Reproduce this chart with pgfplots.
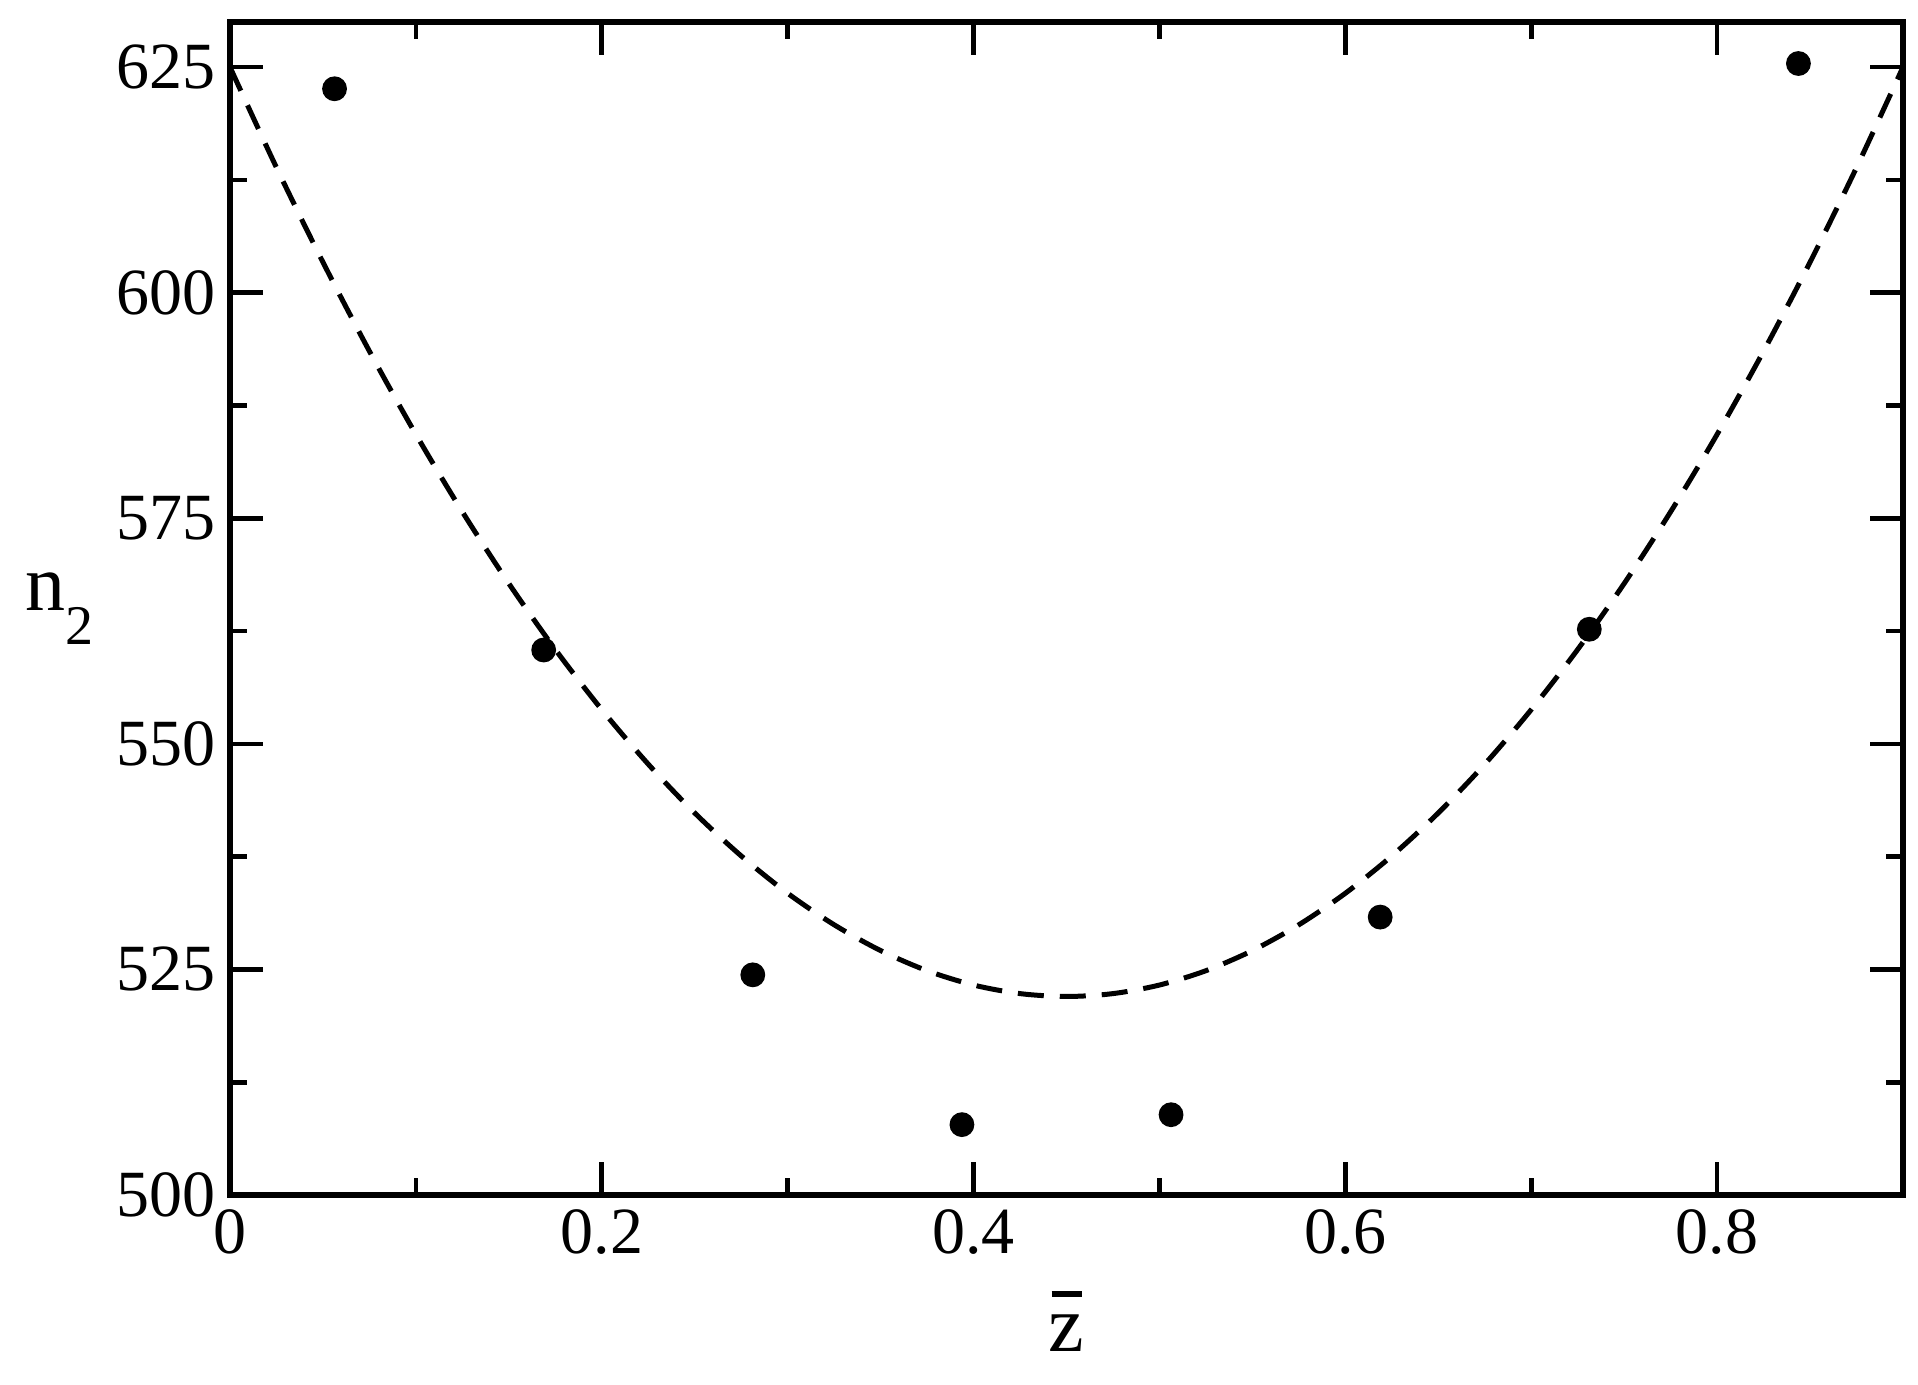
\documentclass[border=0pt]{standalone}
\usepackage{fontspec}
\setmainfont{Liberation Serif}
\usepackage{pgfplots}
\pgfplotsset{compat=1.18}
\begin{document}
\begin{tikzpicture}
\begin{axis}[
  scale only axis, width=418.25pt, height=293.25pt,
  xmin=0, xmax=0.9, ymin=500, ymax=630,
  xtick={0,0.2,0.4,0.6,0.8}, ytick={500,525,550,575,600,625},
  minor x tick num=1, minor y tick num=1,
  tick align=inside, major tick length=8.3pt, minor tick length=4.2pt,
  every tick/.append style={black, line width=1.15pt},
  axis line style={line width=1.5pt},
  tick label style={font=\fontsize{16.5}{18}\selectfont},
  /pgf/number format/assume math mode=true,
  xticklabel style={/pgf/number format/fixed, /pgf/number format/precision=1},
  yticklabel style={/pgf/number format/fixed},
  xlabel={\makebox[0pt][l]{\hspace*{0.7pt}\raisebox{13.5pt}{\rule{7.5pt}{1.5pt}}}z},
  xlabel style={font=\fontsize{20}{22}\selectfont, at={(axis description cs:0.5,0)}, anchor=center, yshift=-31.5pt},
  ylabel={n\raisebox{-8.5pt}{\fontsize{14}{14}\selectfont 2}},
  ylabel style={font=\fontsize{20}{22}\selectfont, at={(axis description cs:0,0.5)}, rotate=-90, anchor=center, xshift=-42.5pt},
  clip=false,
]
\addplot[black, line width=1.25pt, dash pattern=on 6.5pt off 4pt, smooth] coordinates {
(0,625.0) (0.025,613.87) (0.05,603.38) (0.075,593.52) (0.1,584.30)
(0.125,575.72) (0.15,567.77) (0.175,560.46) (0.2,553.79) (0.225,547.75)
(0.25,542.34) (0.275,537.58) (0.3,533.44) (0.325,529.95) (0.35,527.09)
(0.375,524.86) (0.4,523.27) (0.425,522.32) (0.45,522.0) (0.475,522.32)
(0.5,523.27) (0.525,524.86) (0.55,527.09) (0.575,529.95) (0.6,533.44)
(0.625,537.58) (0.65,542.34) (0.675,547.75) (0.7,553.79) (0.725,560.46)
(0.75,567.77) (0.775,575.72) (0.8,584.30) (0.825,593.52) (0.85,603.38)
(0.875,613.87) (0.9,625.0)
};
\addplot[only marks, mark=*, mark size=2.9pt, black] coordinates {
(0.05625,622.6) (0.16875,560.4) (0.28125,524.4) (0.39375,507.8)
(0.50625,508.9) (0.61875,530.8) (0.73125,562.7) (0.84375,625.4)
};
\coordinate (bl) at (rel axis cs:0,0);
\coordinate (tr) at (rel axis cs:1,1);
\end{axis}
\pgfresetboundingbox
\useasboundingbox ([shift={(-57.5pt,-47.25pt)}]bl) rectangle ([shift={(3.75pt,5.5pt)}]tr);
\end{tikzpicture}
\end{document}
